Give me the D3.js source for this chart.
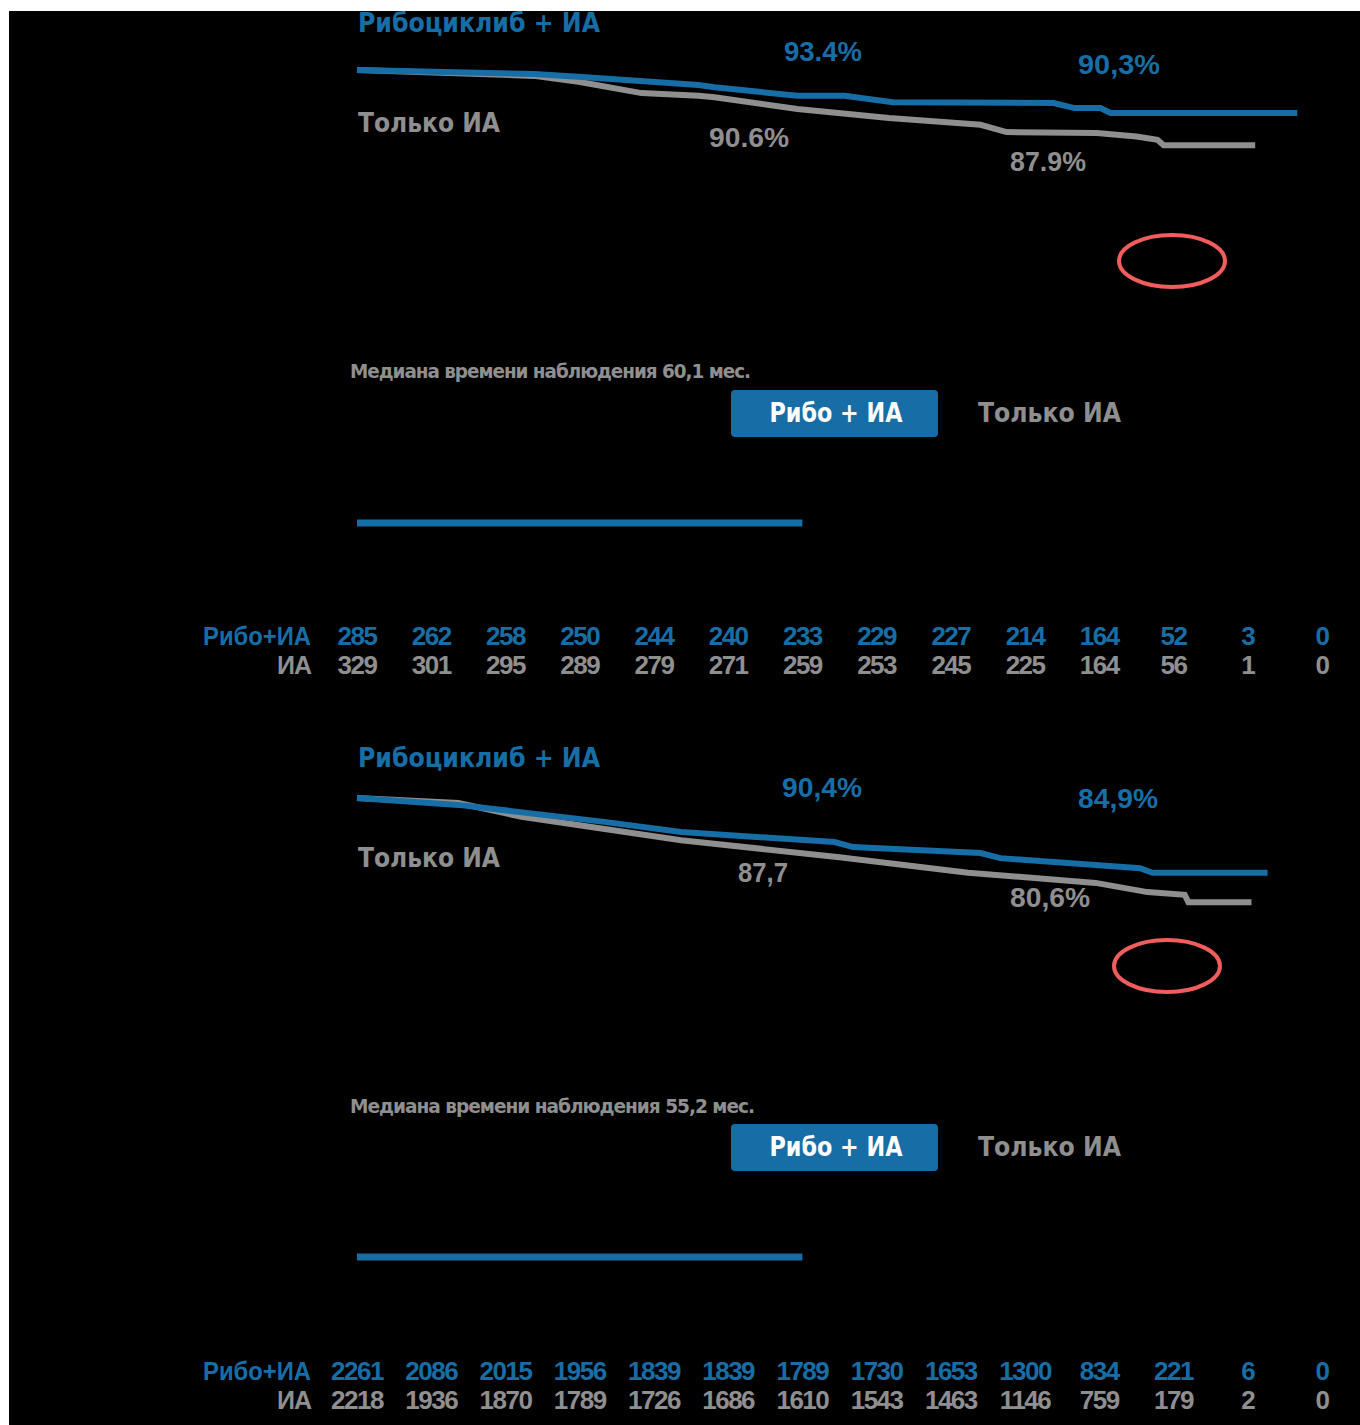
<!DOCTYPE html>
<html>
<head>
<meta charset="utf-8">
<script src="https://cdn.jsdelivr.net/npm/d3@7"></script>
<style>
  body { margin: 0; background: #fff; }
  svg { display: block; }
  .cond { font-family: "Liberation Sans Narrow", "DejaVu Sans Condensed", "Liberation Sans", sans-serif; font-weight: bold; }
  .num { font-family: "Liberation Sans", Arial, sans-serif; font-weight: bold; }
</style>
</head>
<body>
<svg id="chart"></svg>
<script>
// months at risk-table columns
const months = [0, 6, 12, 18, 24, 30, 36, 42, 48, 54, 60, 66, 72, 78];

// number at risk, panel 1
const risk1Ribo = [285, 262, 258, 250, 244, 240, 233, 229, 227, 214, 164, 52, 3, 0];
const risk1IA   = [329, 301, 295, 289, 279, 271, 259, 253, 245, 225, 164, 56, 1, 0];
// number at risk, panel 2
const risk2Ribo = [2261, 2086, 2015, 1956, 1839, 1839, 1789, 1730, 1653, 1300, 834, 221, 6, 0];
const risk2IA   = [2218, 1936, 1870, 1789, 1726, 1686, 1610, 1543, 1463, 1146, 759, 179, 2, 0];

// survival curves [month, %]
const curve1Ribo = [[0, 100], [14.3, 99.1], [17.9, 98.5], [27.6, 96.7], [28.9, 96.2], [35.6, 94.3],
  [39.4, 94.3], [43.3, 92.9], [56.3, 92.7], [58.0, 91.6], [60.1, 91.6], [60.9, 90.5], [76.0, 90.5]];
const curve1IA = [[0, 100], [14.3, 98.7], [17.9, 97.4], [23.0, 94.9], [27.6, 94.3], [28.9, 94.0],
  [35.6, 91.4], [43.0, 89.4], [50.4, 87.9], [52.5, 86.3], [59.8, 86.1], [63.0, 85.3], [64.7, 84.6],
  [65.2, 83.4], [72.6, 83.4]];
const curve2Ribo = [[0, 100], [8.2, 98.5], [20.0, 94.8], [26.2, 92.6], [38.6, 90.4], [40.1, 89.3],
  [50.4, 88.0], [52.0, 86.9], [63.3, 84.7], [64.3, 83.7], [73.6, 83.7]];
const curve2IA = [[0, 100], [8.2, 98.9], [13.3, 95.9], [26.2, 90.8], [39.0, 87.1], [49.4, 83.7],
  [59.7, 81.5], [63.9, 79.5], [66.9, 78.9], [67.2, 77.3], [72.3, 77.3]];

// labels at 36 and 60 months
const labels1Ribo = ['93.4%', '90,3%'];
const labels1IA = ['90.6%', '87.9%'];
const labels2Ribo = ['90,4%', '84,9%'];
const labels2IA = ['87,7', '80,6%'];
const medians = ['Медиана времени наблюдения 60,1 мес.', 'Медиана времени наблюдения 55,2 мес.'];

const BLUE = '#176ea6';
const GRAY = '#8f8f8f';
const RED = '#f15c5c';

const W = 1360, H = 1425;
const svg = d3.select('#chart').attr('width', W).attr('height', H);

// black slide area
svg.append('rect').attr('x', 9).attr('y', 11).attr('width', W - 9).attr('height', H - 11).attr('fill', '#000');

const x = d3.scaleLinear().domain([0, 78]).range([357, 1322]);

const panels = [
  {
    top: 70, bottom: 523, ribo: curve1Ribo, ia: curve1IA, riskRibo: risk1Ribo, riskIA: risk1IA,
    labRibo: labels1Ribo, labIA: labels1IA, median: medians[0],
    titleY: 32, onlyY: 132,
    ribLabPos: [[823, 61, 78], [1119, 74, 82]],
    iaLabPos: [[749, 147, 80], [1048, 171, 76]],
    ellipse: [1172, 261], medianY: 378, medianW: 400, legendY: 390, riskY: 636
  },
  {
    top: 798, bottom: 1257, ribo: curve2Ribo, ia: curve2IA, riskRibo: risk2Ribo, riskIA: risk2IA,
    labRibo: labels2Ribo, labIA: labels2IA, median: medians[1],
    titleY: 767, onlyY: 867,
    ribLabPos: [[822, 797, 80], [1118, 808, 80]],
    iaLabPos: [[763, 882, 50], [1050, 907, 80]],
    ellipse: [1167, 966], medianY: 1113, medianW: 404, legendY: 1124, riskY: 1371
  }
];

panels.forEach(p => {
  const g = svg.append('g');
  const y = d3.scaleLinear().domain([0, 100]).range([p.bottom, p.top]);
  const line = d3.line().x(d => x(d[0])).y(d => y(d[1]));

  // titles
  g.append('text').attr('class', 'cond').attr('x', 358).attr('y', p.titleY)
    .attr('font-size', 27).attr('fill', BLUE)
    .attr('textLength', 242).attr('lengthAdjust', 'spacingAndGlyphs')
    .text('Рибоциклиб + ИА');
  g.append('text').attr('class', 'cond').attr('x', 358).attr('y', p.onlyY)
    .attr('font-size', 27).attr('fill', GRAY)
    .attr('textLength', 142).attr('lengthAdjust', 'spacingAndGlyphs')
    .text('Только ИА');

  // curves
  g.append('path').datum(p.ia).attr('d', line)
    .attr('fill', 'none').attr('stroke', GRAY).attr('stroke-width', 6);
  g.append('path').datum(p.ribo).attr('d', line)
    .attr('fill', 'none').attr('stroke', BLUE).attr('stroke-width', 6);

  // value labels
  p.labRibo.forEach((t, i) => {
    const [cx, by, w] = p.ribLabPos[i];
    g.append('text').attr('class', 'num').attr('x', cx).attr('y', by)
      .attr('text-anchor', 'middle').attr('font-size', 27).attr('fill', BLUE)
      .attr('textLength', w).attr('lengthAdjust', 'spacingAndGlyphs').text(t);
  });
  p.labIA.forEach((t, i) => {
    const [cx, by, w] = p.iaLabPos[i];
    g.append('text').attr('class', 'num').attr('x', cx).attr('y', by)
      .attr('text-anchor', 'middle').attr('font-size', 27).attr('fill', GRAY)
      .attr('textLength', w).attr('lengthAdjust', 'spacingAndGlyphs').text(t);
  });

  // red ellipse marker
  g.append('ellipse').attr('cx', p.ellipse[0]).attr('cy', p.ellipse[1])
    .attr('rx', 53).attr('ry', 26).attr('fill', 'none')
    .attr('stroke', RED).attr('stroke-width', 4);

  // median follow-up
  g.append('text').attr('class', 'cond').attr('x', 350).attr('y', p.medianY)
    .attr('font-size', 20).attr('fill', GRAY).attr('letter-spacing', -1)
    .attr('textLength', p.medianW).attr('lengthAdjust', 'spacingAndGlyphs')
    .text(p.median);

  // legend
  g.append('rect').attr('x', 731).attr('y', p.legendY).attr('width', 207).attr('height', 47)
    .attr('rx', 4).attr('fill', BLUE);
  g.append('text').attr('class', 'cond').attr('x', 836).attr('y', p.legendY + 32)
    .attr('text-anchor', 'middle').attr('font-size', 27).attr('fill', '#fff')
    .attr('textLength', 133).attr('lengthAdjust', 'spacingAndGlyphs')
    .text('Рибо + ИА');
  g.append('text').attr('class', 'cond').attr('x', 978).attr('y', p.legendY + 32)
    .attr('font-size', 27).attr('fill', GRAY)
    .attr('textLength', 143).attr('lengthAdjust', 'spacingAndGlyphs')
    .text('Только ИА');

  // partial x axis at 0 %
  g.append('line').attr('x1', x(0)).attr('x2', x(36)).attr('y1', y(0)).attr('y2', y(0))
    .attr('stroke', BLUE).attr('stroke-width', 7);

  // number at risk
  g.append('text').attr('class', 'num').attr('x', 311).attr('y', p.riskY + 9)
    .attr('text-anchor', 'end').attr('font-size', 25).attr('fill', BLUE)
    .attr('textLength', 108).attr('lengthAdjust', 'spacingAndGlyphs').text('Рибо+ИА');
  g.append('text').attr('class', 'num').attr('x', 311).attr('y', p.riskY + 38)
    .attr('text-anchor', 'end').attr('font-size', 25).attr('fill', GRAY)
    .attr('letter-spacing', -1).text('ИА');

  g.selectAll('.rr').data(p.riskRibo).join('text')
    .attr('class', 'num rr').attr('x', (d, i) => x(months[i])).attr('y', p.riskY + 9)
    .attr('text-anchor', 'middle').attr('font-size', 26).attr('letter-spacing', -1.5)
    .attr('fill', BLUE).text(d => d);
  g.selectAll('.ri').data(p.riskIA).join('text')
    .attr('class', 'num ri').attr('x', (d, i) => x(months[i])).attr('y', p.riskY + 38)
    .attr('text-anchor', 'middle').attr('font-size', 26).attr('letter-spacing', -1.5)
    .attr('fill', GRAY).text(d => d);
});
</script>
</body>
</html>
